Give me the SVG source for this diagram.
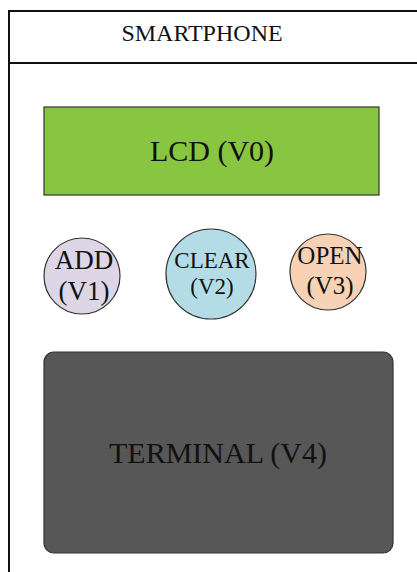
<svg xmlns="http://www.w3.org/2000/svg" width="417" height="572" viewBox="0 0 417 572">
  <style>
    text { font-family: "Liberation Serif", "Times New Roman", serif; fill: #111; text-anchor: middle; }
    .frame { fill: #fff; stroke: #111; stroke-width: 2; }
    .node { stroke: #333; stroke-width: 1.2; }
  </style>
  <rect width="417" height="572" fill="#fff"/>
  <!-- phone frame and title bar -->
  <g id="smartphone">
    <rect class="frame" x="9" y="11" width="430" height="600"/>
    <line x1="9" y1="63" x2="417" y2="63" stroke="#111" stroke-width="2"/>
    <text x="202" y="41" font-size="24">SMARTPHONE</text>
  </g>
  <g id="lcd">
    <rect class="node" x="44" y="107" width="335" height="88" fill="#88c540"/>
    <text x="212" y="161" font-size="30">LCD (V0)</text>
  </g>
  <g id="add">
    <circle class="node" cx="82" cy="276" r="38" fill="#dcd6e6"/>
    <text x="84" y="269" font-size="27">ADD</text>
    <text x="84" y="300" font-size="27">(V1)</text>
  </g>
  <g id="clear">
    <circle class="node" cx="211" cy="274" r="45" fill="#b4dce6"/>
    <text x="212" y="268" font-size="23">CLEAR</text>
    <text x="212" y="294" font-size="23">(V2)</text>
  </g>
  <g id="open">
    <circle class="node" cx="328" cy="272" r="38" fill="#f8d2b4"/>
    <text x="330" y="264" font-size="25">OPEN</text>
    <text x="330" y="294" font-size="25">(V3)</text>
  </g>
  <g id="terminal">
    <rect class="node" x="44" y="352" width="349" height="201" rx="10" fill="#575757"/>
    <text x="218" y="463" font-size="30">TERMINAL (V4)</text>
  </g>
  <g id="connectors"/>
</svg>
